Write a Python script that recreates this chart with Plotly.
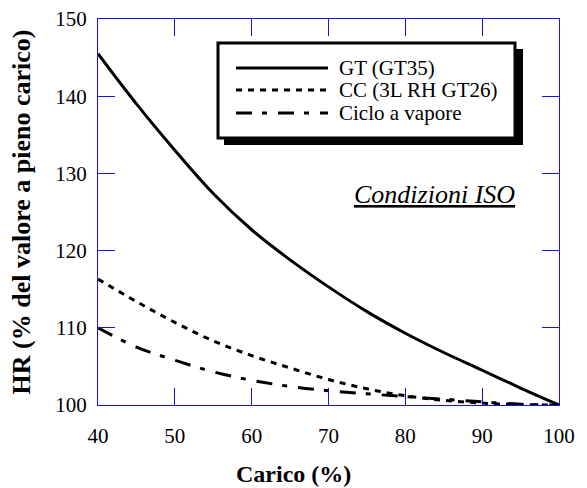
import plotly.graph_objects as go

carico = [40, 45, 50, 55, 60, 65, 70, 75, 80, 85, 90, 95, 100]
hr_gt = [145.5, 139.0, 133.0, 127.4, 122.7, 118.8, 115.3, 112.1, 109.3, 106.8, 104.5, 102.2, 100.0]
hr_cc = [116.3, 113.4, 110.7, 108.3, 106.4, 104.8, 103.3, 102.1, 101.2, 100.6, 100.25, 100.05, 100.0]
hr_vap = [110.0, 107.5, 105.8, 104.3, 103.2, 102.4, 101.85, 101.45, 101.1, 100.75, 100.4, 100.1, 100.0]
series_names = ["GT (GT35)", "CC (3L RH GT26)", "Ciclo a vapore"]
x_ticks = [40, 50, 60, 70, 80, 90, 100]
y_ticks = [100, 110, 120, 130, 140, 150]

dashes = ["solid", "6px,6px", "16px,10px,5px,11px"]
FONT = "Liberation Serif"
AX = "rgb(20,20,220)"

fig = go.Figure()
for name, ys, d in zip(series_names, [hr_gt, hr_cc, hr_vap], dashes):
    fig.add_trace(go.Scatter(x=carico, y=ys, mode="lines", name=name,
                             line=dict(color="black", width=3, dash=d, shape="spline"),
                             showlegend=False))

W, H = 587, 488
ML, MR, MT, MB = 98, 28, 19, 83
PW, PH = W - ML - MR, H - MT - MB
def px(x):
    return (x - ML) / PW
def py(y):
    return (H - MB - y) / PH

shapes = []
# legend box shadow and frame
shapes.append(dict(type="rect", xref="paper", yref="paper",
                   x0=px(224), x1=px(523), y0=py(145), y1=py(49),
                   fillcolor="black", line=dict(width=0), layer="below"))
shapes.append(dict(type="rect", xref="paper", yref="paper",
                   x0=px(218), x1=px(515), y0=py(138), y1=py(43),
                   fillcolor="white", line=dict(color="black", width=3), layer="below"))
leg_y = [68, 90, 113]
annotations = []
for name, d, ly in zip(series_names, dashes, leg_y):
    shapes.append(dict(type="line", xref="paper", yref="paper",
                       x0=px(236), x1=px(328), y0=py(ly), y1=py(ly),
                       line=dict(color="black", width=3, dash=d), layer="below"))
    annotations.append(dict(xref="paper", yref="paper", x=px(337), y=py(ly),
                            text=name, showarrow=False, xanchor="left", yanchor="middle",
                            font=dict(family=FONT, size=21, color="black")))
annotations.append(dict(xref="paper", yref="paper", x=px(434), y=py(195),
                        text="<i><u>Condizioni ISO</u></i>", showarrow=False,
                        xanchor="center", yanchor="middle",
                        font=dict(family=FONT, size=26, color="black")))
# x axis title (offset left of the plot centre, as in the reference)
annotations.append(dict(xref="paper", yref="paper", x=px(293), y=py(474),
                        text="<b>Carico (%)</b>", showarrow=False,
                        xanchor="center", yanchor="middle",
                        font=dict(family=FONT, size=24, color="black")))

axis_common = dict(showline=True, linecolor=AX, linewidth=1, mirror="ticks",
                   ticks="inside", ticklen=17, tickcolor=AX, tickwidth=1,
                   showgrid=False, zeroline=False, automargin=False,
                   tickfont=dict(family=FONT, size=21, color="black"))

fig.update_layout(
    width=W, height=H,
    margin=dict(l=ML, r=MR, t=MT, b=MB),
    paper_bgcolor="white", plot_bgcolor="rgba(0,0,0,0)",
    font=dict(family=FONT),
    shapes=shapes, annotations=annotations,
    xaxis=dict(range=[40, 100], tickvals=x_ticks, ticklabelstandoff=12,
               **axis_common),
    yaxis=dict(range=[100, 150], tickvals=y_ticks, ticklabelstandoff=6,
               title=dict(text="<b>HR (% del valore a pieno carico)</b>", standoff=17,
                          font=dict(family=FONT, size=26, color="black")),
               **axis_common),
)

fig.write_html("out.html")
